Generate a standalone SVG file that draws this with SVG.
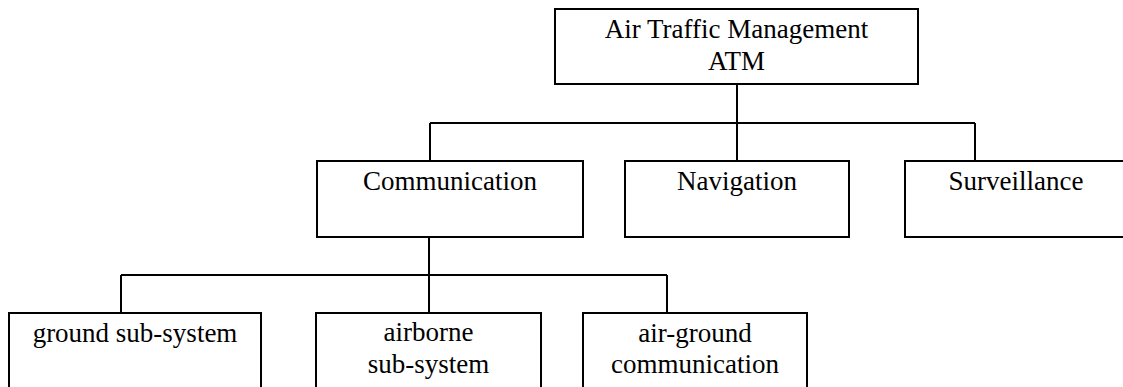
<svg xmlns="http://www.w3.org/2000/svg" width="1123" height="387" viewBox="0 0 1123 387">
  <style>
    .box { fill: #ffffff; stroke: #000000; stroke-width: 2; }
    .wire { fill: none; stroke: #000000; stroke-width: 2; }
    .label { font-family: "Liberation Serif", "Times New Roman", serif; font-size: 27px; fill: #000000; text-anchor: middle; }
  </style>
  <rect width="1123" height="387" fill="#ffffff"/>

  <!-- tree connectors -->
  <g id="connectors">
    <path class="wire" d="M737 84 V123 M430 123 H975 M430 123 V161 M737 123 V161 M975 123 V161"/>
    <path class="wire" d="M429 237 V275 M121 275 H667 M121 275 V313 M429 275 V313 M667 275 V313"/>
  </g>

  <g id="atm">
    <rect class="box" x="555" y="9" width="363" height="75"/>
    <text class="label" x="736.5" y="38">Air Traffic Management</text>
    <text class="label" x="736.5" y="70">ATM</text>
  </g>

  <g id="communication">
    <rect class="box" x="317" y="161" width="266" height="76"/>
    <text class="label" x="450" y="190">Communication</text>
  </g>

  <g id="navigation">
    <rect class="box" x="625" y="161" width="224" height="76"/>
    <text class="label" x="737" y="190">Navigation</text>
  </g>

  <g id="surveillance">
    <rect class="box" x="905" y="161" width="222" height="76"/>
    <text class="label" x="1016" y="190">Surveillance</text>
  </g>

  <g id="ground-subsystem">
    <rect class="box" x="9" y="313" width="252" height="80"/>
    <text class="label" x="135" y="342">ground sub-system</text>
  </g>

  <g id="airborne-subsystem">
    <rect class="box" x="316" y="313" width="225" height="80"/>
    <text class="label" x="428.5" y="341">airborne</text>
    <text class="label" x="428.5" y="373">sub-system</text>
  </g>

  <g id="air-ground-communication">
    <rect class="box" x="583" y="313" width="224" height="80"/>
    <text class="label" x="695" y="342">air-ground</text>
    <text class="label" x="695" y="373">communication</text>
  </g>
</svg>
